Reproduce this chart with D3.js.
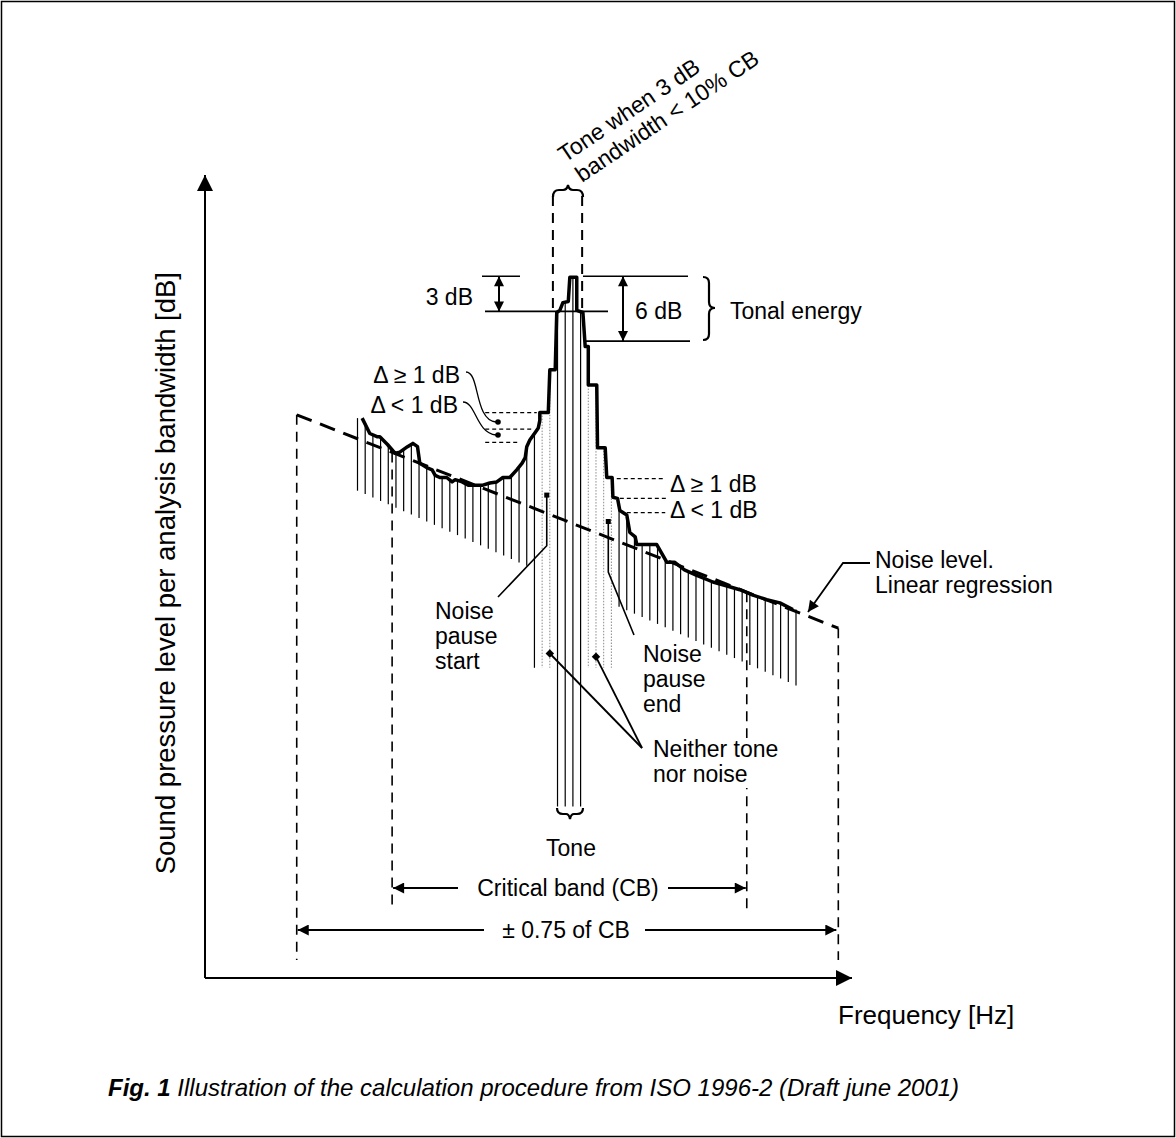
<!DOCTYPE html>
<html>
<head>
<meta charset="utf-8">
<script src="https://d3js.org/d3.v7.min.js"></script>
<title>Tone procedure ISO 1996-2</title>
<style>
body { margin:0; background:#fff; }
svg text { font-family:"Liberation Sans", Arial, sans-serif; font-size:23px; fill:#000; }
</style>
</head>
<body>
<div id="chart"></div>
<script>
// ---- data (bin = analysis line index, level in dB) ----
var binCount = 58;
var toneBins = [26, 27, 28, 29];
var neitherBins = [24, 25, 30, 31, 32, 33];
var edgeBins = [23];

// thick spectrum curve
var curveBin = [0.6,1.6,2.6,2.9,3.9,4.9,5.5,6.5,7.2,7.8,8.1,9.0,9.7,10.1,10.7,11.6,12.3,12.7,13.6,14.4,
  15.3,16.3,17.2,18.1,18.9,19.8,20.7,21.4,21.8,22.0,22.4,23.1,23.5,23.7,23.7,24.8,25.0,25.7,25.9,26.3,
  26.7,27.4,27.6,28.5,28.5,29.3,29.6,30.0,30.0,31.1,31.2,32.2,32.4,33.1,33.2,33.8,34.1,35.0,35.4,36.1,
  36.3,38.9,40.2,41.2,42.5,44.1,46.2,47.7,49.7,51.4,53.2,54.9,56.6];
var curveDb = [50.9,49.5,49.2,49.2,48.5,47.7,47.8,48.3,48.6,48.3,46.8,46.4,46.2,45.7,45.5,45.5,45.1,45.3,45.1,44.8,
  44.8,44.8,45.0,45.1,45.5,45.5,46.2,46.8,47.3,48.3,48.9,49.6,50.0,50.7,51.4,51.4,55.3,55.3,60.5,60.7,
  61.4,61.5,63.7,63.7,60.7,60.5,57.4,57.4,53.9,53.9,48.2,48.2,45.5,45.5,43.7,43.6,42.5,42.1,40.5,40.1,
  39.4,39.4,37.8,37.8,37.1,36.6,36.0,35.7,35.3,34.8,34.4,34.1,33.5];

// lower end of the noise hatching
var floorBin = [0, 57];
var floorDb = [44.3, 26.6];
var neitherFloorDb = 28.2;
var toneFloorDb = 15.6;

// linear regression of noise level
var regBin = [-7.9, 62.5];
var regDb = [51.2, 31.8];

// critical band and +-0.75 CB limits
var cbBin = [4.5, 50.6];
var wideBin = [-7.9, 62.5];

// tone levels: peak, -3 dB, -6 dB
var toneLevelDb = [63.8, 60.6, 57.9];
var toneBandBin = [25.4, 29.2];

// delta level steps (left and right of the tone)
var deltaLeftDb = [51.4, 49.9, 48.7];
var deltaLeftFrom = [16.6, 16.6, 16.6];
var deltaLeftTo = [23.3, 22.8, 21.1];
var deltaRightDb = [45.4, 43.6, 42.3];
var deltaRightFrom = [33.7, 34.1, 35.0];
var deltaRightTo = [40.0, 40.1, 40.0];

// noise pause markers [bin, top dB, bottom dB]
var pauseStart = [24.6, 43.9, 39.3];
var pauseEnd = [32.6, 41.5, 36.9];
var neitherMarks = [[25.0, 29.5], [31.0, 29.2]];

// ---- drawing ----
var W = 1176, H = 1138;
var svg = d3.select("#chart").append("svg").attr("width", W).attr("height", H);

var x = d3.scaleLinear().domain([0, 57]).range([357.5, 796]);
var y = d3.scaleLinear().domain([0, 73]).range([978, 175]);
var floorScale = d3.scaleLinear().domain(floorBin).range(floorDb);

var defs = svg.append("defs");
function arrow(id, w, h) {
  defs.append("marker").attr("id", id)
    .attr("viewBox", "0 0 10 10").attr("refX", 10).attr("refY", 5)
    .attr("markerUnits", "userSpaceOnUse")
    .attr("markerWidth", w).attr("markerHeight", h)
    .attr("orient", "auto-start-reverse")
    .append("path").attr("d", "M0,0L10,5L0,10Z").attr("fill", "#000");
}
arrow("axis", 18, 16);
arrow("big", 15, 11);
arrow("small", 11, 10);

// frame
svg.append("rect").attr("x", 1.5).attr("y", 1.5).attr("width", W - 3).attr("height", H - 3)
  .attr("fill", "none").attr("stroke", "#000").attr("stroke-width", 1.5);

function levelAt(b) {
  var n = curveBin.length;
  if (b <= curveBin[0]) return curveDb[0];
  if (b >= curveBin[n - 1]) return curveDb[n - 1];
  for (var i = 0; i < n - 1; i++) {
    var b0 = curveBin[i], b1 = curveBin[i + 1];
    if (b1 > b0 && b >= b0 && b <= b1)
      return curveDb[i] + (curveDb[i + 1] - curveDb[i]) * (b - b0) / (b1 - b0);
  }
  return curveDb[n - 1];
}

var hatch = d3.range(binCount).map(function(k) {
  var type = toneBins.indexOf(k) >= 0 ? "tone"
    : neitherBins.indexOf(k) >= 0 ? "neither"
    : edgeBins.indexOf(k) >= 0 ? "edge" : "noise";
  var bottom = type == "tone" ? toneFloorDb : type == "noise" ? floorScale(k) : neitherFloorDb;
  return {k: k, type: type, top: levelAt(k), bottom: bottom};
});

svg.append("g").selectAll("line").data(hatch).enter().append("line")
  .attr("x1", function(d) { return x(d.k); }).attr("x2", function(d) { return x(d.k); })
  .attr("y1", function(d) { return y(d.top); }).attr("y2", function(d) { return y(d.bottom); })
  .attr("stroke", function(d) { return d.type == "neither" ? "#8a8a8a" : "#000"; })
  .attr("stroke-width", function(d) { return d.type == "neither" ? 1 : 1.2; })
  .attr("stroke-dasharray", function(d) { return d.type == "neither" ? "1.5,1.5" : null; });

// vertical dashed limits
function vdash(b, d0, yEnd) {
  svg.append("line").attr("x1", x(b)).attr("x2", x(b)).attr("y1", y(d0)).attr("y2", yEnd)
    .attr("stroke", "#000").attr("stroke-width", 1.6).attr("stroke-dasharray", "10,7");
}
var reg = d3.scaleLinear().domain(regBin).range(regDb);
vdash(wideBin[0], reg(wideBin[0]), 960);
vdash(wideBin[1], reg(wideBin[1]), 960);
vdash(cbBin[0], reg(cbBin[0]), 910);
vdash(cbBin[1], reg(cbBin[1]), 910);

// regression line
svg.append("line").attr("x1", x(regBin[0])).attr("y1", y(regDb[0]))
  .attr("x2", x(regBin[1])).attr("y2", y(regDb[1]))
  .attr("stroke", "#000").attr("stroke-width", 3).attr("stroke-dasharray", "16,9");

// tone bandwidth dashed lines
toneBandBin.forEach(function(b) {
  svg.append("line").attr("x1", x(b)).attr("x2", x(b)).attr("y1", 196).attr("y2", y(toneLevelDb[1]))
    .attr("stroke", "#000").attr("stroke-width", 2).attr("stroke-dasharray", "10,7");
});

// delta dashed lines
function hdash(db, b0, b1) {
  svg.append("line").attr("x1", x(b0)).attr("x2", x(b1)).attr("y1", y(db)).attr("y2", y(db))
    .attr("stroke", "#000").attr("stroke-width", 1.2).attr("stroke-dasharray", "4,3");
}
deltaLeftDb.forEach(function(d, i) { hdash(d, deltaLeftFrom[i], deltaLeftTo[i]); });
deltaRightDb.forEach(function(d, i) { hdash(d, deltaRightFrom[i], deltaRightTo[i]); });

// spectrum curve
var pts = curveBin.map(function(b, i) { return [b, curveDb[i]]; });
svg.append("path").datum(pts)
  .attr("d", d3.line().x(function(d) { return x(d[0]); }).y(function(d) { return y(d[1]); }))
  .attr("fill", "none").attr("stroke", "#000").attr("stroke-width", 3.5)
  .attr("stroke-linejoin", "round");

// axes
svg.append("line").attr("x1", 205).attr("y1", 978).attr("x2", 205).attr("y2", 175)
  .attr("stroke", "#000").attr("stroke-width", 2).attr("marker-end", "url(#axis)");
svg.append("line").attr("x1", 205).attr("y1", 978).attr("x2", 852).attr("y2", 978)
  .attr("stroke", "#000").attr("stroke-width", 2).attr("marker-end", "url(#axis)");

// 3 dB / 6 dB marks
function hline(x1, x2, yy, w) {
  svg.append("line").attr("x1", x1).attr("x2", x2).attr("y1", yy).attr("y2", yy)
    .attr("stroke", "#000").attr("stroke-width", w || 1.6);
}
hline(482, 520, y(toneLevelDb[0]));
hline(485, 608, y(toneLevelDb[1]));
hline(583, 688, y(toneLevelDb[0]));
hline(585, 690, y(toneLevelDb[2]));
svg.append("line").attr("x1", 499).attr("x2", 499).attr("y1", y(toneLevelDb[0])).attr("y2", y(toneLevelDb[1]))
  .attr("stroke", "#000").attr("stroke-width", 2)
  .attr("marker-start", "url(#small)").attr("marker-end", "url(#small)");
svg.append("line").attr("x1", 623).attr("x2", 623).attr("y1", y(toneLevelDb[0])).attr("y2", y(toneLevelDb[2]))
  .attr("stroke", "#000").attr("stroke-width", 2)
  .attr("marker-start", "url(#small)").attr("marker-end", "url(#small)");

function label(tx, ty, s, anchor, fill) {
  return svg.append("text").attr("x", tx).attr("y", ty).attr("text-anchor", anchor || "start")
    .attr("fill", fill || "#000").text(s);
}
label(473, 305, "3 dB", "end");
label(635, 319, "6 dB");
label(730, 319, "Tonal energy");

// braces
svg.append("path").attr("d", "M703,277 Q709,277 709,283 L709,302 Q709,308 715,308 Q709,308 709,314 L709,334 Q709,340 703,340")
  .attr("fill", "none").attr("stroke", "#000").attr("stroke-width", 2.2);
svg.append("path").attr("d", "M553,197 Q553,190 559,190 L563,190 Q567,190 568,185 Q569,190 573,190 L577,190 Q583,190 583,197")
  .attr("fill", "none").attr("stroke", "#000").attr("stroke-width", 2.2);
svg.append("path").attr("d", "M557,808 Q557,814 563,814 L566,814 Q569,814 570,819 Q571,814 574,814 L577,814 Q583,814 583,808")
  .attr("fill", "none").attr("stroke", "#000").attr("stroke-width", 2.2);

// rotated title
var tg = svg.append("g").attr("transform", "translate(565,163) rotate(-34)");
tg.append("text").attr("x", 0).attr("y", 0).text("Tone when 3 dB");
tg.append("text").attr("x", 3).attr("y", 26).text("bandwidth < 10% CB");

// delta labels and leaders
label(460, 383, "\u0394 \u2265 1 dB", "end");
label(458, 413, "\u0394 < 1 dB", "end");
label(670, 492, "\u0394 \u2265 1 dB");
label(670, 518, "\u0394 < 1 dB");
svg.append("path").attr("d", "M466,372 C480,372 474,420 496,422").attr("fill", "none").attr("stroke", "#000").attr("stroke-width", 1.3);
svg.append("path").attr("d", "M463,402 C476,402 476,433 496,435").attr("fill", "none").attr("stroke", "#000").attr("stroke-width", 1.3);
[[498, 422], [498, 435]].forEach(function(p) {
  svg.append("circle").attr("cx", p[0]).attr("cy", p[1]).attr("r", 2.8).attr("fill", "#000");
});

// noise pause markers
function pause(m, lx, ly) {
  var px = x(m[0]);
  svg.append("path").attr("d", "M" + px + "," + y(m[1]) + "L" + px + "," + y(m[2]) + "L" + lx + "," + ly)
    .attr("fill", "none").attr("stroke", "#000").attr("stroke-width", 1.6);
  svg.append("rect").attr("x", px - 2.5).attr("y", y(m[1]) - 2.5).attr("width", 5).attr("height", 5).attr("fill", "#000");
}
pause(pauseStart, 498, 597);
pause(pauseEnd, 634, 635);
["Noise", "pause", "start"].forEach(function(s, i) { label(435, 619 + i * 25, s); });
["Noise", "pause", "end"].forEach(function(s, i) { label(643, 662 + i * 25, s); });

// neither tone nor noise
svg.append("rect").attr("x", 650).attr("y", 738).attr("width", 132).attr("height", 50).attr("fill", "#fff");
neitherMarks.forEach(function(m) {
  svg.append("line").attr("x1", x(m[0])).attr("y1", y(m[1])).attr("x2", 642).attr("y2", 748)
    .attr("stroke", "#000").attr("stroke-width", 1.8);
  svg.append("rect").attr("x", -3).attr("y", -3).attr("width", 6).attr("height", 6)
    .attr("transform", "translate(" + x(m[0]) + "," + y(m[1]) + ") rotate(45)").attr("fill", "#000");
});
label(653, 757, "Neither tone", "start", "#ababab");
label(653, 782, "nor noise", "start", "#ababab");

// noise level leader
svg.append("path").attr("d", "M870,563 L843,563 L808,612").attr("fill", "none")
  .attr("stroke", "#000").attr("stroke-width", 1.8).attr("marker-end", "url(#big)");
label(875, 568, "Noise level.");
label(875, 593, "Linear regression");

label(571, 856, "Tone", "middle");

// band arrows
function span(x1, x2, yy) {
  svg.append("line").attr("x1", x1).attr("x2", x2).attr("y1", yy).attr("y2", yy)
    .attr("stroke", "#000").attr("stroke-width", 2).attr("marker-end", "url(#big)");
}
span(458, x(cbBin[0]) + 1, 888);
span(668, x(cbBin[1]) - 1, 888);
label(568, 896, "Critical band (CB)", "middle");
span(484, x(wideBin[0]) + 1, 930);
span(645, x(wideBin[1]) - 2, 930);
label(566, 938, "\u00B1 0.75 of CB", "middle");

// axis titles
label(838, 1024, "Frequency  [Hz]").style("font-size", "26px");
svg.append("text").attr("transform", "translate(175,272) rotate(-90)").attr("text-anchor", "end")
  .style("font-size", "27.5px")
  .text("Sound pressure level per analysis bandwidth  [dB]");

// caption
var cap = svg.append("text").attr("x", 108).attr("y", 1096).style("font-size", "24px").style("font-style", "italic");
cap.append("tspan").style("font-weight", "bold").text("Fig. 1");
cap.append("tspan").text(" Illustration of the calculation procedure from ISO 1996-2 (Draft june 2001)");
</script>
</body>
</html>
